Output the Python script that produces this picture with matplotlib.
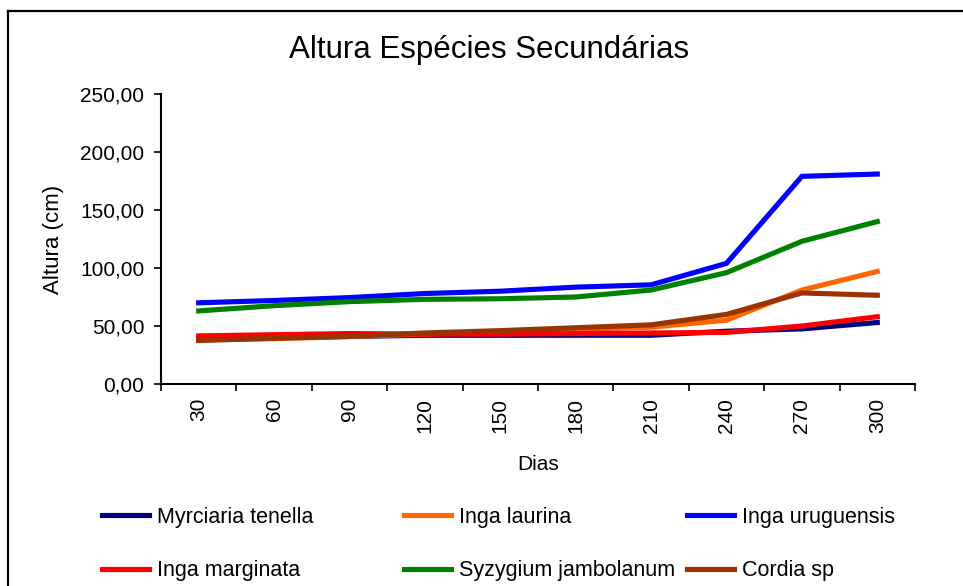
import matplotlib
matplotlib.use("Agg")
import matplotlib.pyplot as plt
from matplotlib.lines import Line2D
from matplotlib.ticker import FuncFormatter, FixedLocator

plt.rcParams["font.family"] = ["Liberation Sans", "DejaVu Sans"]

# Data
dias = [30, 60, 90, 120, 150, 180, 210, 240, 270, 300]
myrciaria_tenella = [39, 40, 41, 42, 42, 42, 42, 45.5, 47.5, 53]
inga_laurina = [38, 39, 41, 43, 45, 47, 49, 55, 81, 97]
inga_uruguensis = [70, 72, 74.5, 78, 80, 83.5, 85.5, 104, 179, 181]
inga_marginata = [41.5, 42.5, 43.5, 43, 43, 43.5, 44, 44.5, 50, 58]
syzygium_jambolanum = [63, 67.5, 71, 73, 73.5, 75, 81, 96, 123, 140]
cordia_sp = [37.5, 39.5, 41, 44, 46, 48.5, 51, 60, 78.5, 76.5]

series = [
    ("Myrciaria tenella", myrciaria_tenella, "#000080"),
    ("Inga laurina", inga_laurina, "#FF6600"),
    ("Inga uruguensis", inga_uruguensis, "#0000FF"),
    ("Inga marginata", inga_marginata, "#FF0000"),
    ("Syzygium jambolanum", syzygium_jambolanum, "#008000"),
    ("Cordia sp", cordia_sp, "#993300"),
]

W, H = 963, 586
fig = plt.figure(figsize=(W / 100, H / 100), dpi=100)
ax = fig.add_axes([161 / W, 1 - 384 / H, (915 - 161) / W, (384 - 94) / H])

pos = [i + 0.5 for i in range(len(dias))]
lines = []
for name, vals, col in series:
    (ln,) = ax.plot(pos, vals, color=col, lw=3.7, label=name,
                    solid_joinstyle="miter", clip_on=False)
    lines.append(ln)

ax.set_xlim(0, len(dias))
ax.set_ylim(0, 250)
ax.set_yticks(range(0, 251, 50))
ax.yaxis.set_major_formatter(FuncFormatter(lambda v, p: f"{v:.2f}".replace(".", ",")))

# category boundaries as tick marks, labels at category centres
ax.xaxis.set_major_locator(FixedLocator(range(len(dias) + 1)))
ax.set_xticklabels([])
ax.set_xticks(pos, minor=True)
ax.set_xticklabels([str(d) for d in dias], minor=True, rotation=90, fontsize=15)
ax.tick_params(axis="x", which="major", length=5, width=1.2, direction="out")
ax.tick_params(axis="x", which="minor", length=0, pad=10)
ax.tick_params(axis="y", length=5, width=1.2, direction="out", pad=7, labelsize=15)

for s in ["top", "right"]:
    ax.spines[s].set_visible(False)
for s in ["left", "bottom"]:
    ax.spines[s].set_linewidth(1.5)

ax.set_xlabel("Dias", fontsize=15, labelpad=16)
ax.set_ylabel("Altura (cm)", fontsize=16)
ax.yaxis.set_label_coords(-0.129, 0.5)
fig.text(489 / W, 1 - 50 / H, "Altura Espécies Secundárias", fontsize=22.5,
         ha="center", va="center")

# outer chart frame (only left and top edges are visible)
fig.add_artist(Line2D([8 / W, 8 / W], [-0.1, 1 - 11 / H], transform=fig.transFigure,
                      color="black", lw=1.6))
fig.add_artist(Line2D([8 / W, 1.1], [1 - 11 / H, 1 - 11 / H], transform=fig.transFigure,
                      color="black", lw=1.6))

# legend: three columns of two entries
col_x = [102, 404, 687]
for j, x in enumerate(col_x):
    fig.legend([lines[j], lines[j + 3]], [series[j][0], series[j + 3][0]],
               loc="upper left", bbox_to_anchor=(x / W, 1 - 507 / H),
               frameon=False, fontsize=15.5, handlelength=2.2, handletextpad=0.35,
               labelspacing=1.5, borderaxespad=0, borderpad=0)

fig.savefig("out.png", dpi=100)
